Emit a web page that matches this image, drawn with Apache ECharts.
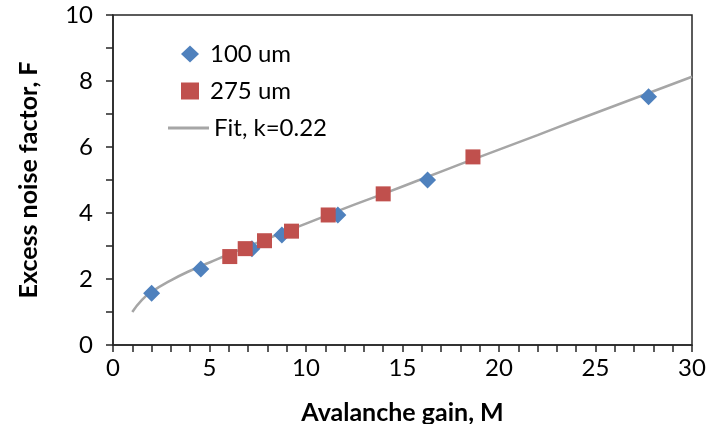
<!DOCTYPE html>
<html>
<head>
<meta charset="utf-8">
<script src="https://cdn.jsdelivr.net/npm/echarts@6/dist/echarts.min.js"></script>
<style>
  html, body { margin: 0; padding: 0; background: #fff; }
  #chart { width: 710px; height: 424px; }
</style>
</head>
<body>
<div id="chart"></div>
<script>
// Measured excess noise factor vs avalanche gain, two device sizes
const gain100 = [2.0, 4.55, 7.2, 8.75, 11.65, 16.3, 27.75];
const noise100 = [1.57, 2.3, 2.92, 3.33, 3.94, 5.0, 7.52];

const gain275 = [6.05, 6.85, 7.85, 9.25, 11.15, 14.0, 18.65];
const noise275 = [2.68, 2.92, 3.16, 3.45, 3.94, 4.58, 5.7];

// Fit curve, k = 0.22
const fitGain = [1, 1.5, 2, 3, 4, 5, 6, 7, 8, 9, 10, 12, 14, 16, 18, 20, 22, 24, 26, 28, 30];
const fitNoise = [1.0, 1.37, 1.61, 1.96, 2.25, 2.5, 2.75, 2.99, 3.22, 3.45, 3.68, 4.14, 4.58, 5.03, 5.48, 5.92, 6.36, 6.81, 7.25, 7.69, 8.13];

const seriesNames = ['100 um', '275 um', 'Fit, k=0.22'];

const pairs = (xs, ys) => xs.map((x, i) => [x, ys[i]]);

const font = 'Lato, "Open Sans", sans-serif';
const axisColor = '#262626';
const legendText = { fontFamily: font, fontSize: 24, color: '#000', lineHeight: 26 };

const chart = echarts.init(document.getElementById('chart'));
chart.setOption({
  animation: false,
  grid: {
    left: 113, right: 18, top: 15, bottom: 79,
    outerBoundsMode: 'none',
    containLabel: false,
    show: true, borderColor: axisColor, borderWidth: 1.5
  },
  legend: [
    {
      // marker entries
      orient: 'vertical',
      left: 176, top: 36,
      itemWidth: 18, itemHeight: 17, itemGap: 11,
      textStyle: Object.assign({ padding: [0, 0, 0, 6] }, legendText),
      data: [
        { name: seriesNames[0], icon: 'diamond' },
        { name: seriesNames[1], icon: 'rect' }
      ]
    },
    {
      // fit line entry
      orient: 'vertical',
      left: 163, top: 110,
      itemWidth: 41, itemHeight: 3,
      textStyle: legendText,
      data: [{ name: seriesNames[2], icon: 'rect' }]
    }
  ],
  xAxis: {
    type: 'value', min: 0, max: 30, interval: 5,
    name: 'Avalanche gain, M', nameLocation: 'middle', nameGap: 55,
    nameTextStyle: { fontFamily: font, fontSize: 25, fontWeight: 'bold', color: '#000' },
    axisLine: { show: true, lineStyle: { color: axisColor, width: 1.5 } },
    axisTick: { show: true, length: 7, lineStyle: { color: axisColor, width: 1.5 } },
    minorTick: { show: true, splitNumber: 5, length: 7, lineStyle: { color: axisColor, width: 1.5 } },
    axisLabel: { fontFamily: font, fontSize: 24, color: '#000', margin: 11 },
    splitLine: { show: false }
  },
  yAxis: {
    type: 'value', min: 0, max: 10, interval: 2,
    name: 'Excess noise factor, F', nameLocation: 'middle', nameGap: 72,
    nameTextStyle: { fontFamily: font, fontSize: 25, fontWeight: 'bold', color: '#000' },
    axisLine: { show: true, lineStyle: { color: axisColor, width: 1.5 } },
    axisTick: { show: true, length: 7, lineStyle: { color: axisColor, width: 1.5 } },
    minorTick: { show: true, splitNumber: 2, length: 7, lineStyle: { color: axisColor, width: 1.5 } },
    axisLabel: { fontFamily: font, fontSize: 24, color: '#000', margin: 20 },
    splitLine: { show: false }
  },
  series: [
    {
      name: seriesNames[2], type: 'line', smooth: true, symbol: 'none',
      data: pairs(fitGain, fitNoise),
      lineStyle: { color: '#A6A6A6', width: 2.5 },
      itemStyle: { color: '#A6A6A6' },
      z: 1
    },
    {
      name: seriesNames[0], type: 'scatter', symbol: 'diamond', symbolSize: 17,
      data: pairs(gain100, noise100),
      itemStyle: { color: '#4F81BD', opacity: 1 },
      z: 2
    },
    {
      name: seriesNames[1], type: 'scatter', symbol: 'rect', symbolSize: 15,
      data: pairs(gain275, noise275),
      itemStyle: { color: '#C0504D', opacity: 1 },
      z: 3
    }
  ]
});
</script>
</body>
</html>
